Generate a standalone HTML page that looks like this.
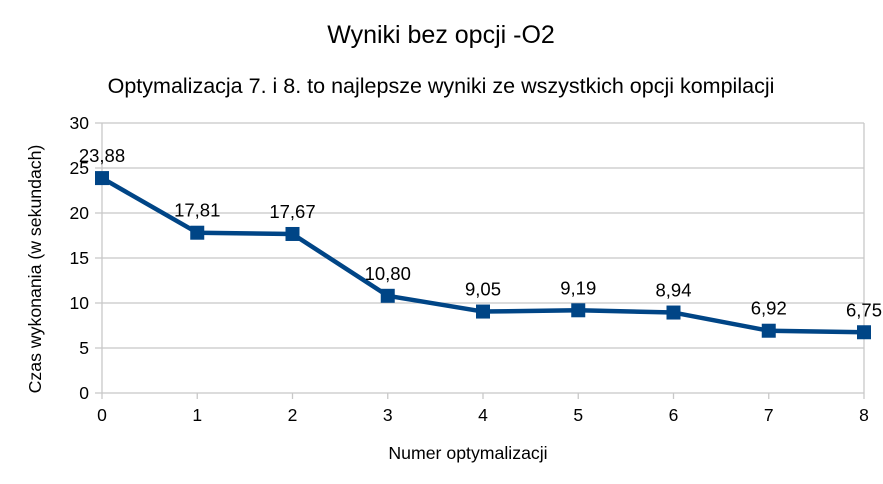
<!DOCTYPE html>
<html><head><meta charset="utf-8"><style>
body{margin:0;background:#fff;}
svg{display:block;font-family:"Liberation Sans",sans-serif;}
</style></head><body>
<svg id="c" width="883" height="484">
<text x="441" y="43" text-anchor="middle" font-size="25">Wyniki bez opcji -O2</text>
<text x="441" y="93" text-anchor="middle" font-size="21.5">Optymalizacja 7. i 8. to najlepsze wyniki ze wszystkich opcji kompilacji</text>
<text transform="translate(41,269) rotate(-90)" text-anchor="middle" font-size="17.7">Czas wykonania (w sekundach)</text>
<text x="468" y="459" text-anchor="middle" font-size="17.7">Numer optymalizacji</text>
<g id="grid"></g><g id="marks"></g>
</svg>
<script>
const categories=[0,1,2,3,4,5,6,7,8];
const values=[23.88,17.81,17.67,10.80,9.05,9.19,8.94,6.92,6.75];
const valueLabels=["23,88","17,81","17,67","10,80","9,05","9,19","8,94","6,92","6,75"];
const yTicks=[0,5,10,15,20,25,30];
const NS="http://www.w3.org/2000/svg";
const x=v=>102+v*(864-102)/8, y=v=>393-v*9;
function mk(t,a,p){const e=document.createElementNS(NS,t);for(const k in a)e.setAttribute(k,a[k]);p.appendChild(e);return e;}
const g=document.getElementById('grid'),m=document.getElementById('marks');
yTicks.forEach(t=>{
 const l=mk('line',{x1:95,x2:864,y1:y(t),y2:y(t),stroke:'#c8c8c8','stroke-width':1.3},g);
 
 
 const tx=mk('text',{x:89,y:y(t)+6,'text-anchor':'end','font-size':17.5},g);tx.textContent=t;
 
 
});
categories.forEach(c=>{
 const l=mk('line',{x1:x(c),x2:x(c),y1:393,y2:399,stroke:'#c8c8c8','stroke-width':1.3},g);
 
 
 const tx=mk('text',{x:x(c),y:421,'text-anchor':'middle','font-size':17.5},g);tx.textContent=c;
 
 
});
[102,864].forEach(px=>{const l=mk('line',{x1:px,x2:px,y1:123,y2:393,stroke:'#c8c8c8','stroke-width':1.3},g);
 
 });
const line=mk('polyline',{points:categories.map((c,i)=>x(c)+','+y(values[i])).join(' '),fill:'none',stroke:'#004586','stroke-width':4.5,'stroke-linejoin':'round'},m);


categories.forEach((c,i)=>{
 const r=mk('rect',{x:x(c)-7,y:y(values[i])-7,width:14,height:14,fill:'#004586'},m);
 
 
 const t=mk('text',{x:x(c),y:y(values[i])-16,'text-anchor':'middle','font-size':18.5},m);t.textContent=valueLabels[i];
 
 
});
</script>
</body></html>
